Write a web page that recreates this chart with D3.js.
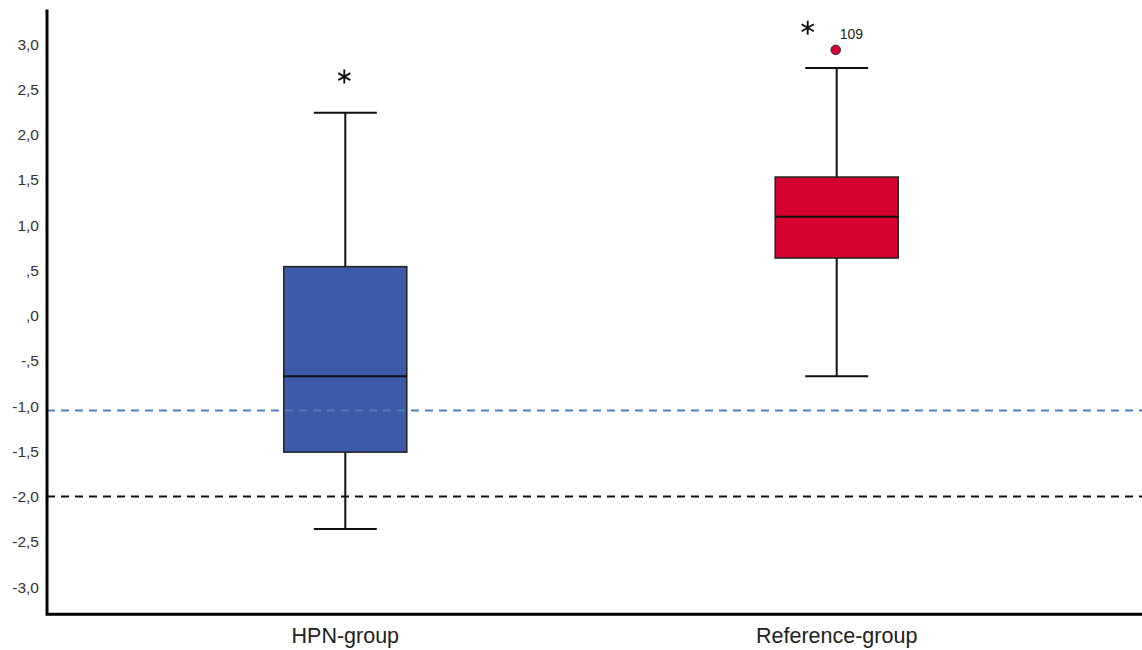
<!DOCTYPE html>
<html>
<head>
<meta charset="utf-8">
<script src="https://cdn.jsdelivr.net/npm/d3@7"></script>
<style>
  html, body { margin: 0; padding: 0; background: #fff; }
  svg { display: block; font-family: "Liberation Sans", Arial, sans-serif; }
</style>
</head>
<body>
<svg id="chart" width="1142" height="650"></svg>
<script>
// Groups and their box-plot statistics
const groups = ["HPN-group", "Reference-group"];
const whiskerLow  = [-2.36, -0.67];
const q1          = [-1.51, 0.635];
const median      = [-0.67, 1.09];
const q3          = [0.54, 1.53];
const whiskerHigh = [2.24, 2.735];
const extremes    = [2.64, 3.18];      // plotted as asterisks
const outliers    = [null, 2.935];      // plotted as circles
const outlierIds  = [null, "109"];
const boxColors   = ["#3d5aa8", "#d40032"];

// Reference lines
const refLines = [-1.05, -2.0];
const refColors = ["#4f81bd", "#111111"];

// Y axis tick values and labels
const yTicks = [3, 2.5, 2, 1.5, 1, 0.5, 0, -0.5, -1, -1.5, -2, -2.5, -3];
const yTickLabels = ["3,0", "2,5", "2,0", "1,5", "1,0", ",5", ",0", "-,5", "-1,0", "-1,5", "-2,0", "-2,5", "-3,0"];

const svg = d3.select("#chart");
const width = 1142;

const y = d3.scaleLinear().domain([-3, 3]).range([587, 44]);
const x = d3.scalePoint().domain(groups).range([47, 1135]).padding(0.607);

const axisX = 47;
const yTop = y(3.38), yBottom = y(-3.3);
const boxW = 123, capW = 63;

// Boxes
const g = svg.append("g");
groups.forEach((grp, i) => {
  const cx = x(grp);
  // whisker stems
  g.append("line").attr("x1", cx).attr("x2", cx)
    .attr("y1", y(whiskerHigh[i])).attr("y2", y(q3[i]))
    .attr("stroke", "#111").attr("stroke-width", 2);
  g.append("line").attr("x1", cx).attr("x2", cx)
    .attr("y1", y(q1[i])).attr("y2", y(whiskerLow[i]))
    .attr("stroke", "#111").attr("stroke-width", 2);
  // caps
  [whiskerHigh[i], whiskerLow[i]].forEach(v => {
    g.append("line").attr("x1", cx - capW / 2).attr("x2", cx + capW / 2)
      .attr("y1", y(v)).attr("y2", y(v))
      .attr("stroke", "#111").attr("stroke-width", 2);
  });
  // box
  g.append("rect")
    .attr("x", cx - boxW / 2).attr("width", boxW)
    .attr("y", y(q3[i])).attr("height", y(q1[i]) - y(q3[i]))
    .attr("fill", boxColors[i])
    .attr("stroke", "#222").attr("stroke-width", 1.5);
  // median
  g.append("line").attr("x1", cx - boxW / 2).attr("x2", cx + boxW / 2)
    .attr("y1", y(median[i])).attr("y2", y(median[i]))
    .attr("stroke", "#111").attr("stroke-width", 2);

  // extreme value asterisk
  if (extremes[i] != null) {
    const ax = outliers[i] != null ? cx - 29 : cx - 1;
    const ay = y(extremes[i]);
    const r = 7;
    const path = d3.path();
    [90, 30, 150].forEach(a => {
      const rad = a * Math.PI / 180;
      path.moveTo(ax - r * Math.cos(rad), ay - r * Math.sin(rad));
      path.lineTo(ax + r * Math.cos(rad), ay + r * Math.sin(rad));
    });
    g.append("path").attr("d", path.toString())
      .attr("stroke", "#111").attr("stroke-width", 1.9).attr("fill", "none");
  }
  // outlier circle + case label
  if (outliers[i] != null) {
    g.append("circle").attr("cx", cx - 1).attr("cy", y(outliers[i])).attr("r", 4.8)
      .attr("fill", boxColors[i]).attr("stroke", "#333").attr("stroke-width", 1);
    g.append("text").attr("x", cx + 3).attr("y", y(outliers[i]) - 11)
      .attr("font-size", 14).attr("fill", "#222").text(outlierIds[i]);
  }
});

// Reference lines, drawn over the boxes
svg.append("g").selectAll("line").data(refLines).join("line")
  .attr("x1", axisX).attr("x2", width)
  .attr("y1", d => y(d)).attr("y2", d => y(d))
  .attr("stroke", (d, i) => refColors[i])
  .attr("stroke-width", 2)
  .attr("stroke-dasharray", "8,6");

// Y tick labels
svg.append("g").selectAll("text").data(yTicks).join("text")
  .attr("x", 39).attr("y", d => y(d)).attr("dy", "0.36em")
  .attr("text-anchor", "end").attr("font-size", 15.5).attr("fill", "#333")
  .text((d, i) => yTickLabels[i]);

// X category labels
svg.append("g").selectAll("text").data(groups).join("text")
  .attr("x", d => x(d)).attr("y", 643)
  .attr("text-anchor", "middle").attr("font-size", 21.5).attr("fill", "#222")
  .text(d => d);

// Axis lines
svg.append("path")
  .attr("d", `M${axisX},${yTop}V${yBottom}H${width}`)
  .attr("fill", "none").attr("stroke", "#000").attr("stroke-width", 3);
</script>
</body>
</html>
